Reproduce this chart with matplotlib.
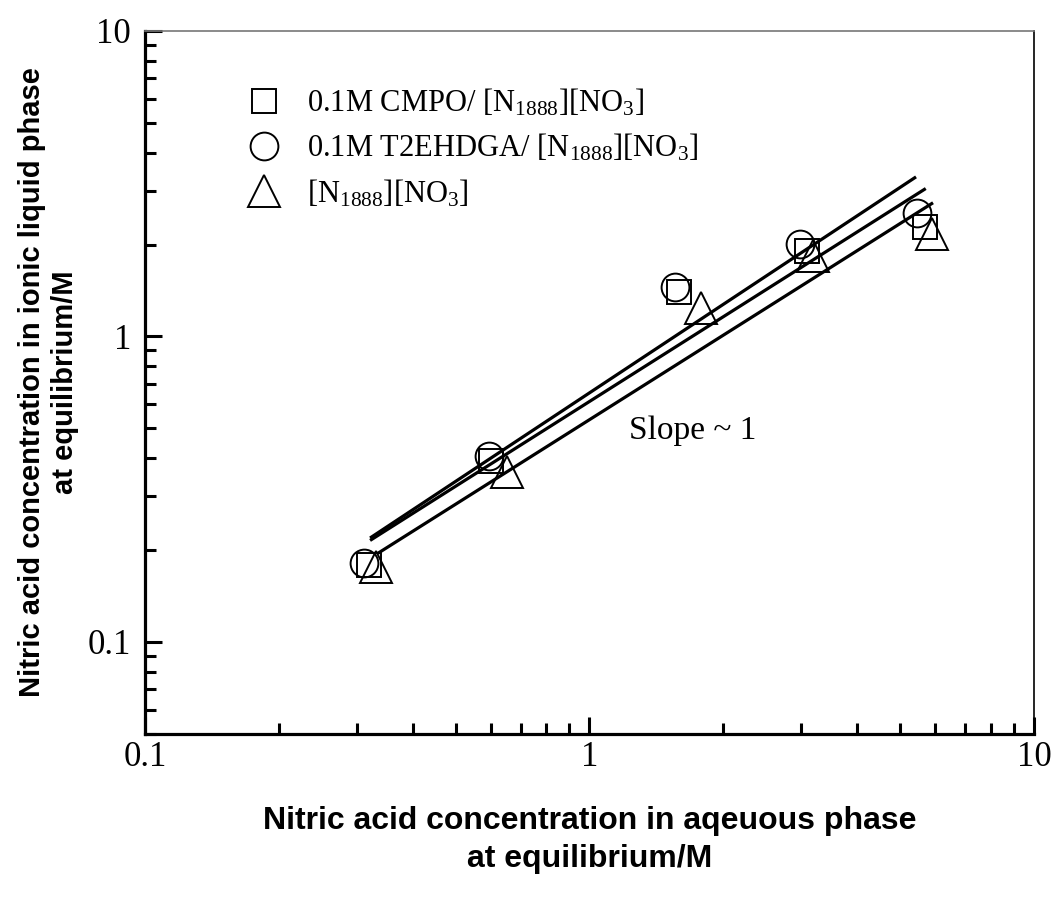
import matplotlib
matplotlib.use("Agg")
import matplotlib.pyplot as plt
from matplotlib.lines import Line2D
from matplotlib.ticker import LogLocator, FixedLocator, NullFormatter
import numpy as np

# equilibrium HNO3: aqueous (x) vs ionic liquid phase (y), mol/L
cmpo_x = [0.32, 0.60, 1.59, 3.08, 5.69]
cmpo_y = [0.178, 0.39, 1.40, 1.91, 2.29]

t2ehdga_x = [0.311, 0.594, 1.56, 2.98, 5.46]
t2ehdga_y = [0.181, 0.405, 1.45, 2.01, 2.54]

il_x = [0.331, 0.652, 1.78, 3.18, 5.89]
il_y = [0.176, 0.36, 1.24, 1.84, 2.17]

# fitted lines (start/end points)
fit_x = [[0.321, 5.43], [0.321, 5.71], [0.334, 5.93]]
fit_y = [[0.219, 3.33], [0.215, 3.05], [0.195, 2.74]]

legend_labels = [
    r"0.1M CMPO/ [N$_{1888}$][NO$_3$]",
    r"0.1M T2EHDGA/ [N$_{1888}$][NO$_3$]",
    r"[N$_{1888}$][NO$_3$]",
]

plt.rcParams["font.family"] = "Liberation Serif"
plt.rcParams["mathtext.fontset"] = "custom"
plt.rcParams["mathtext.rm"] = "Liberation Serif"
plt.rcParams["mathtext.it"] = "Liberation Serif:italic"

fig = plt.figure(figsize=(10.55, 9.01), dpi=100)
ax = fig.add_axes([0.1374, 0.1854, 0.8426, 0.7802])

for xs, ys in zip(fit_x, fit_y):
    ax.plot(xs, ys, color="black", lw=2.3, solid_capstyle="butt", zorder=2)

mk = dict(ls="none", mfc="none", mec="black", mew=1.4, zorder=3)
ax.plot(cmpo_x, cmpo_y, marker="s", ms=17, **mk)
ax.plot(t2ehdga_x, t2ehdga_y, marker="o", ms=20, **mk)
ax.plot(il_x, il_y, marker="^", ms=23, **mk)

ax.set_xscale("log")
ax.set_yscale("log")
ax.set_xlim(0.1, 10)
ax.set_ylim(0.05, 10)

ax.xaxis.set_major_locator(FixedLocator([0.1, 1, 10]))
ax.yaxis.set_major_locator(FixedLocator([0.1, 1, 10]))
ax.xaxis.set_minor_locator(LogLocator(base=10, subs=np.arange(2, 10)))
ax.yaxis.set_minor_locator(LogLocator(base=10, subs=np.arange(2, 10)))
ax.xaxis.set_minor_formatter(NullFormatter())
ax.yaxis.set_minor_formatter(NullFormatter())
ax.set_xticklabels(["0.1", "1", "10"])
ax.set_yticklabels(["0.1", "1", "10"])

ax.tick_params(which="both", direction="in", top=False, right=False,
               labelsize=25, width=2.2)
ax.tick_params(which="major", length=12)
ax.tick_params(which="minor", length=8)
ax.tick_params(axis="x", which="major", pad=5)
ax.tick_params(axis="y", which="major", pad=10)

ax.spines["left"].set_linewidth(2.3)
ax.spines["bottom"].set_linewidth(2.3)
ax.spines["right"].set_linewidth(1.2)
ax.spines["top"].set_linewidth(1.2)
ax.spines["top"].set_color("#777777")

ax.set_xlabel("Nitric acid concentration in aqeuous phase\nat equilibrium/M",
              family="Liberation Sans", weight="bold", fontsize=23,
              linespacing=1.35, va="center", ha="center")
ax.xaxis.set_label_coords(0.5, -0.1508)
ax.set_ylabel("Nitric acid concentration in ionic liquid phase\nat equilibrium/M",
              family="Liberation Sans", weight="bold", fontsize=21,
              linespacing=1.27, va="center", ha="center")
ax.yaxis.set_label_coords(-0.1085, 0.5)

ax.text(1.23, 0.493, "Slope ~ 1", fontsize=24, va="center", ha="left")

handles = [
    Line2D([], [], marker="s", ms=17, **mk),
    Line2D([], [], marker="o", ms=20, **mk),
    Line2D([], [], marker="^", ms=23, **mk),
]
ax.legend(handles, legend_labels, loc="upper left",
          bbox_to_anchor=(0.1, 0.942), frameon=False, fontsize=22,
          handlelength=1.0, handletextpad=0.9, labelspacing=0.45,
          borderpad=0.0)

fig.savefig("out.png", dpi=100)
